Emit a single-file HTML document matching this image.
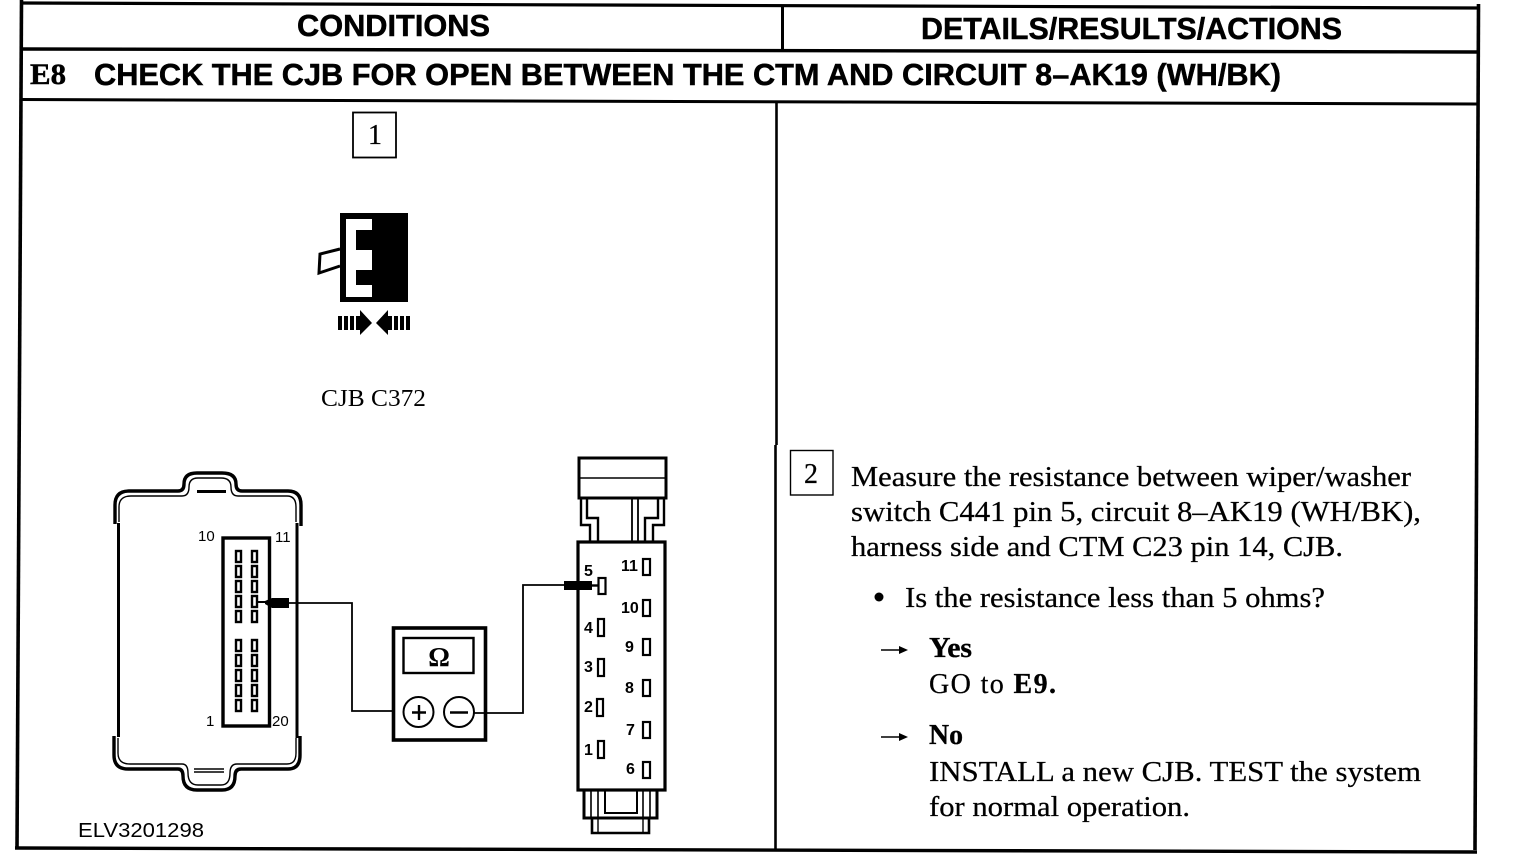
<!DOCTYPE html>
<html><head><meta charset="utf-8"><style>
html,body{margin:0;padding:0;background:#fff}
svg{display:block}
.h{font-family:"Liberation Sans",sans-serif;font-weight:bold;font-size:31px;stroke:#000;stroke-width:.5px}
.b{font-family:"Liberation Serif",serif;font-size:28px;stroke:#000;stroke-width:.25px}
.bb{font-family:"Liberation Serif",serif;font-size:28px;font-weight:bold;stroke:#000;stroke-width:.3px}
.n{font-family:"Liberation Sans",sans-serif;font-size:15px}
.nb{font-family:"Liberation Sans",sans-serif;font-size:16px;font-weight:bold}
</style></head><body>
<svg width="1520" height="864" viewBox="0 0 1520 864" xmlns="http://www.w3.org/2000/svg">
<rect width="1520" height="864" fill="#fff"/>
<g stroke="#000" fill="none">
<path d="M20 3 L1478 8" stroke-width="3.2"/>
<path d="M21 49 L1478 52" stroke-width="3.4"/>
<path d="M21 99.5 L1478 104" stroke-width="3"/>
<path d="M1478.5 4 L1475 850" stroke-width="3.6"/>
<path d="M21.5 0 L17 849" stroke-width="3.6"/>
<path d="M15 848 L1477 852" stroke-width="3.4"/>
<path d="M782.5 5 V51" stroke-width="3"/>
<path d="M776.5 103 V445" stroke-width="2.6"/>
<path d="M775.5 445 V849" stroke-width="2.6"/>
</g>
<text class="h" x="297" y="36" textLength="193" lengthAdjust="spacingAndGlyphs">CONDITIONS</text>
<text class="h" x="921" y="39" textLength="421" lengthAdjust="spacingAndGlyphs">DETAILS/RESULTS/ACTIONS</text>
<text x="30" y="84" font-family="Liberation Serif" font-weight="bold" font-size="30" stroke="#000" stroke-width=".5" textLength="36" lengthAdjust="spacingAndGlyphs">E8</text>
<text class="h" x="94" y="85" textLength="1187" lengthAdjust="spacingAndGlyphs">CHECK THE CJB FOR OPEN BETWEEN THE CTM AND CIRCUIT 8–AK19 (WH/BK)</text>

<rect x="353" y="112.5" width="43" height="45" fill="none" stroke="#000" stroke-width="1.8"/>
<text class="b" x="375" y="144" text-anchor="middle">1</text>

<rect x="340" y="213" width="68" height="89" fill="#000"/>
<path d="M346 219 H372 V230 H356 V250 H372 V270 H356 V285 H372 V297 H346 Z" fill="#fff"/>
<path d="M340 249 L320 254 L319 273 L340 266" fill="#fff" stroke="#000" stroke-width="3"/>
<g fill="#000">
<rect x="338" y="316" width="4" height="14"/><rect x="344" y="316" width="4" height="14"/><rect x="350" y="316" width="4" height="14"/>
<path d="M356 316 H360 V310 L372 323 L360 335 V330 H356 Z"/>
<path d="M388 310 V316 H392 V330 H388 V335 L376 323 Z"/>
<rect x="394" y="316" width="4" height="14"/><rect x="400" y="316" width="4" height="14"/><rect x="406" y="316" width="4" height="14"/>
</g>
<text x="321" y="406" font-family="Liberation Serif" font-size="24" textLength="105" lengthAdjust="spacingAndGlyphs">CJB C372</text>

<g fill="none" stroke="#000">
<path d="M115 524 V505 Q115 491 129 491 H178 Q184 491 184 484 Q184 473 197 473 H222 Q236 473 236 484 Q236 491 242 491 H288 Q301 491 301 505 V526" stroke-width="3.4"/>
<path d="M119 522 V507 Q119 496 131 496 H182 Q189 496 189 487 Q189 478 198 478 H221 Q231 478 231 487 Q231 496 238 496 H287 Q296 496 296 507 V522" stroke-width="1.4"/>
<path d="M118.5 523 V737" stroke-width="3"/>
<path d="M297 523 V738" stroke-width="3"/>
<path d="M114 736 V755 Q114 769 128 769 H178 Q183 769 183 776 Q183 790 197 790 H222 Q235 790 235 776 Q235 769 241 769 H288 Q300 769 300 755 V736" stroke-width="3.4"/>
<path d="M118 738 V753 Q118 764 130 764 H182 Q188 764 188 773 Q188 785 198 785 H221 Q230 785 230 773 Q230 764 237 764 H287 Q296 764 296 753 V738" stroke-width="1.4"/>
<path d="M197 491.5 H226" stroke-width="3"/>
<path d="M194 769 H224 M194 772 H224" stroke-width="1.4"/>
<rect x="223" y="538" width="46.5" height="188" stroke-width="3.4"/>
</g>
<g fill="#fff" stroke="#000" stroke-width="2.4">
<rect x="236" y="551" width="5" height="11"/><rect x="236" y="566" width="5" height="11"/><rect x="236" y="581" width="5" height="11"/><rect x="236" y="596" width="5" height="11"/><rect x="236" y="611" width="5" height="11"/>
<rect x="252" y="551" width="5" height="11"/><rect x="252" y="566" width="5" height="11"/><rect x="252" y="581" width="5" height="11"/><rect x="252" y="596" width="5" height="11"/><rect x="252" y="611" width="5" height="11"/>
<rect x="236" y="640" width="5" height="11"/><rect x="236" y="655" width="5" height="11"/><rect x="236" y="670" width="5" height="11"/><rect x="236" y="685" width="5" height="11"/><rect x="236" y="700" width="5" height="11"/>
<rect x="252" y="640" width="5" height="11"/><rect x="252" y="655" width="5" height="11"/><rect x="252" y="670" width="5" height="11"/><rect x="252" y="685" width="5" height="11"/><rect x="252" y="700" width="5" height="11"/>
</g>
<path d="M257 602 H267" stroke="#000" stroke-width="2"/>
<path d="M265 601 L272 598 H289 V608 H272 L265 604 Z" fill="#000"/>
<path d="M289 603 H352 V711 H403" fill="none" stroke="#000" stroke-width="1.8"/>
<text class="n" x="198" y="541">10</text><text class="n" x="275" y="542">11</text>
<text class="n" x="206" y="726">1</text><text class="n" x="272" y="726">20</text>

<rect x="393.5" y="628" width="92" height="112" fill="#fff" stroke="#000" stroke-width="3.6"/>
<rect x="403.5" y="638" width="70" height="35" fill="none" stroke="#000" stroke-width="2.4"/>
<text x="439" y="666" text-anchor="middle" font-family="Liberation Serif" font-weight="bold" font-size="27">Ω</text>
<circle cx="418.5" cy="712" r="15" fill="#fff" stroke="#000" stroke-width="2"/>
<circle cx="459" cy="712" r="15" fill="#fff" stroke="#000" stroke-width="2"/>
<path d="M412 712.5 H426 M419 705 V720 M450 712.5 H468" stroke="#000" stroke-width="2.4"/>
<path d="M474 713 H523 V585 H565" fill="none" stroke="#000" stroke-width="1.8"/>

<g fill="none" stroke="#000">
<rect x="579" y="458" width="87" height="40" stroke-width="3"/>
<path d="M579 478 H666" stroke-width="1.6"/>
<path d="M581 498 V525 H590 V541 M587 498 V518 H598 V541 M664 498 V525 H653 V541 M658 498 V518 H645 V541" stroke-width="2.4"/>
<path d="M632 498 V541 M638 498 V541" stroke-width="1.8"/>
<rect x="578" y="542" width="87" height="248" stroke-width="3.2" fill="#fff"/>
<path d="M584 790 V818 H657 V790" stroke-width="3"/>
<path d="M591 790 V818 M598 790 V818 M650 790 V818 M643 790 V818" stroke-width="1.6"/>
<path d="M605 790 V813 H637 V790" stroke-width="2"/>
<path d="M592 818 V833 H649 V818" stroke-width="2.6"/>
<path d="M598 818 V833 M643 818 V833" stroke-width="1.4"/>
</g>
<rect x="564" y="581" width="28" height="9" fill="#000"/>
<path d="M590 585.5 H598" stroke="#000" stroke-width="2.4"/>
<g fill="#fff" stroke="#000" stroke-width="2.2">
<rect x="598.5" y="578" width="7" height="16"/>
<rect x="598" y="619" width="6" height="17"/>
<rect x="598" y="659" width="6" height="17"/>
<rect x="597" y="699" width="6" height="17"/>
<rect x="598" y="741" width="6" height="17"/>
<rect x="643" y="559" width="7" height="16"/>
<rect x="643" y="600" width="7" height="16"/>
<rect x="643" y="639" width="7" height="16"/>
<rect x="643" y="680" width="7" height="16"/>
<rect x="643" y="722" width="7" height="16"/>
<rect x="643" y="762" width="7" height="16"/>
</g>
<g>
<text class="nb" x="584" y="576">5</text>
<text class="nb" x="621" y="571">11</text>
<text class="nb" x="621" y="613">10</text>
<text class="nb" x="584" y="633">4</text>
<text class="nb" x="625" y="652">9</text>
<text class="nb" x="584" y="672">3</text>
<text class="nb" x="625" y="693">8</text>
<text class="nb" x="584" y="712">2</text>
<text class="nb" x="626" y="735">7</text>
<text class="nb" x="584" y="755">1</text>
<text class="nb" x="626" y="774">6</text>
</g>
<text x="78" y="837" font-family="Liberation Sans" font-size="20" textLength="126" lengthAdjust="spacingAndGlyphs">ELV3201298</text>

<rect x="790.5" y="450.5" width="42.5" height="44.5" fill="none" stroke="#000" stroke-width="1.4"/>
<text class="b" x="811" y="483" text-anchor="middle">2</text>
<text class="b" x="851" y="486" textLength="560" lengthAdjust="spacingAndGlyphs">Measure the resistance between wiper/washer</text>
<text class="b" x="851" y="521" textLength="570" lengthAdjust="spacingAndGlyphs">switch C441 pin 5, circuit 8–AK19 (WH/BK),</text>
<text class="b" x="851" y="556" textLength="492" lengthAdjust="spacingAndGlyphs">harness side and CTM C23 pin 14, CJB.</text>
<circle cx="879" cy="597" r="4.5" fill="#000"/>
<text class="b" x="905" y="607" textLength="420" lengthAdjust="spacingAndGlyphs">Is the resistance less than 5 ohms?</text>
<path d="M881 650 H905" stroke="#000" stroke-width="1.5"/>
<path d="M899 646 L908 650 L899 654 Z" fill="#000"/>
<text class="bb" x="929" y="657" textLength="43" lengthAdjust="spacingAndGlyphs">Yes</text>
<text class="b" x="929" y="693" textLength="127" lengthAdjust="spacing">GO to <tspan font-weight="bold">E9.</tspan></text>
<path d="M881 737 H905" stroke="#000" stroke-width="1.5"/>
<path d="M899 733 L908 737 L899 741 Z" fill="#000"/>
<text class="bb" x="929" y="744" textLength="34" lengthAdjust="spacingAndGlyphs">No</text>
<text class="b" x="929" y="781" textLength="492" lengthAdjust="spacingAndGlyphs">INSTALL a new CJB. TEST the system</text>
<text class="b" x="929" y="816" textLength="261" lengthAdjust="spacingAndGlyphs">for normal operation.</text>
</svg>
</body></html>
